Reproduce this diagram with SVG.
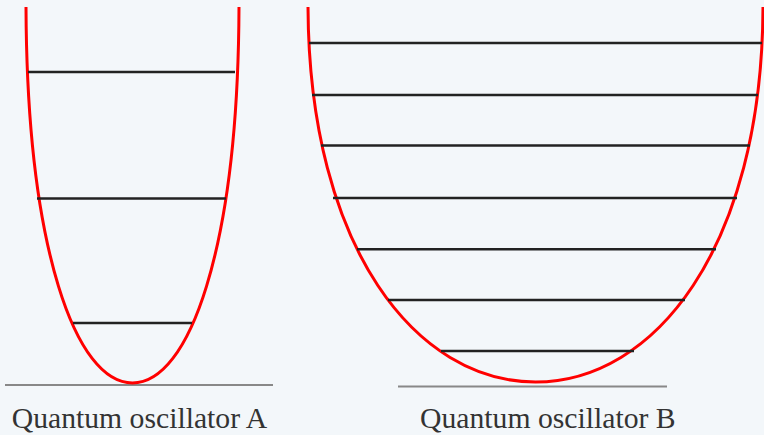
<svg xmlns="http://www.w3.org/2000/svg" width="764" height="435" viewBox="0 0 764 435">
<style>
.bg{fill:#f3f7fa}
.well{fill:none;stroke:#ff0000;stroke-width:3}
.lvl{stroke:#222;stroke-width:2.4}
.base{stroke:#888;stroke-width:1.8}
.lbl{font-family:"Liberation Serif","Times New Roman",serif;font-size:29.7px;fill:#333}
</style>
<rect class="bg" x="0" y="0" width="764" height="435"/>
<g id="oscillator-a">
<line class="base" x1="5" y1="385" x2="273" y2="385"/>
<path class="well" d="M26,7 C27,250 76,383 132.5,383 C189,383 238,250 239,7"/>
<line class="lvl" x1="28" y1="72" x2="235" y2="72"/>
<line class="lvl" x1="37" y1="198.5" x2="226" y2="198.5"/>
<line class="lvl" x1="73" y1="323" x2="192" y2="323"/>
<text class="lbl" x="11.7" y="428">Quantum oscillator A</text>
</g>
<g id="oscillator-b">
<line class="base" x1="398" y1="386.5" x2="667" y2="386.5"/>
<path class="well" d="M308,7 C309,249 417,382 535.5,382 C654,382 762,249 763,7"/>
<line class="lvl" x1="309" y1="43" x2="762" y2="43"/>
<line class="lvl" x1="312" y1="95" x2="758" y2="95"/>
<line class="lvl" x1="321" y1="145.5" x2="750" y2="145.5"/>
<line class="lvl" x1="333" y1="198" x2="737" y2="198"/>
<line class="lvl" x1="357" y1="249.3" x2="716" y2="249.3"/>
<line class="lvl" x1="388" y1="300" x2="685" y2="300"/>
<line class="lvl" x1="441" y1="351" x2="634" y2="351"/>
<text class="lbl" x="420" y="428">Quantum oscillator B</text>
</g>
</svg>
